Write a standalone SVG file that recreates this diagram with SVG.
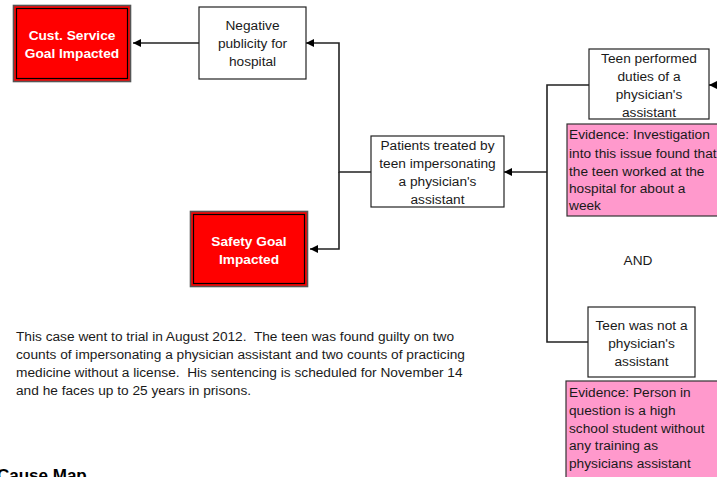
<svg xmlns="http://www.w3.org/2000/svg" width="717" height="477" viewBox="0 0 717 477">
<style>
text{font-family:"Liberation Sans",Arial,sans-serif;font-size:13.7px;fill:#1a1a1a}
.c{text-anchor:middle}
.g{fill:#fff;font-weight:bold}
.box{fill:#fff;stroke:#222;stroke-width:1.2}
.ev{fill:#ff99cc;stroke:#333;stroke-width:1.2}
.red{fill:#ff0000;stroke:#555;stroke-width:1.6}
.redin{fill:none;stroke:#000;stroke-width:1.2}
.con path{fill:none;stroke:#222;stroke-width:1.6}
.note{white-space:pre}
</style>
<defs>
<marker id="ah" markerUnits="userSpaceOnUse" markerWidth="9" markerHeight="9" refX="8" refY="4" orient="auto">
<path d="M0,0 L8,4 L0,8 z" fill="#000"/>
</marker>
</defs>
<rect width="717" height="477" fill="#fff"/>
<g class="con">
<path d="M199,43 H133" marker-end="url(#ah)"/>
<path d="M371,172 H339 V43 H306" marker-end="url(#ah)"/>
<path d="M339,172 V249 H310" marker-end="url(#ah)"/>
<path d="M589,85 H547 V342 H588"/>
<path d="M547,172 H504" marker-end="url(#ah)"/>
<path d="M722,85 H709" marker-end="url(#ah)"/>
</g>
<g id="cust">
<rect class="red" x="13.5" y="5.5" width="117" height="76"/>
<rect class="redin" x="16.5" y="8.5" width="111" height="70"/>
<text class="c g" x="72" y="40">Cust. Service</text>
<text class="c g" x="72" y="58">Goal Impacted</text>
</g>
<g id="negative">
<rect class="box" x="199" y="7" width="107" height="72"/>
<text class="c" x="252.5" y="30">Negative</text>
<text class="c" x="252.5" y="48">publicity for</text>
<text class="c" x="252.5" y="66">hospital</text>
</g>
<g id="safety">
<rect class="red" x="190.5" y="211.5" width="117" height="75"/>
<rect class="redin" x="193.5" y="214.5" width="111" height="69"/>
<text class="c g" x="249" y="246">Safety Goal</text>
<text class="c g" x="249" y="264">Impacted</text>
</g>
<g id="patients">
<rect class="box" x="371" y="136" width="133" height="71"/>
<text class="c" x="437.5" y="150">Patients treated by</text>
<text class="c" x="437.5" y="168">teen impersonating</text>
<text class="c" x="437.5" y="186">a physician's</text>
<text class="c" x="437.5" y="204">assistant</text>
</g>
<g id="performed">
<rect class="box" x="589" y="49" width="120" height="70"/>
<text class="c" x="649" y="63">Teen performed</text>
<text class="c" x="649" y="81">duties of a</text>
<text class="c" x="649" y="99">physician's</text>
<text class="c" x="649" y="117">assistant</text>
</g>
<g id="evidence1">
<rect class="ev" x="567" y="124" width="160" height="92"/>
<text x="569" y="139">Evidence: Investigation</text>
<text x="569" y="158">into this issue found that</text>
<text x="569" y="176">the teen worked at the</text>
<text x="569" y="193">hospital for about a</text>
<text x="569" y="210">week</text>
</g>
<g id="and">
<text class="c" x="638" y="265">AND</text>
</g>
<g id="notpa">
<rect class="box" x="588" y="307" width="107" height="70"/>
<text class="c" x="641.5" y="330">Teen was not a</text>
<text class="c" x="641.5" y="348">physician's</text>
<text class="c" x="641.5" y="366">assistant</text>
</g>
<g id="evidence2">
<rect class="ev" x="566" y="381" width="160" height="110"/>
<text x="569" y="397">Evidence: Person in</text>
<text x="569" y="415">question is a high</text>
<text x="569" y="433">school student without</text>
<text x="569" y="450">any training as</text>
<text x="569" y="468">physicians assistant</text>
</g>
<g id="note">
<text class="note" x="16" y="341">This case went to trial in August 2012.  The teen was found guilty on two</text>
<text class="note" x="16" y="359">counts of impersonating a physician assistant and two counts of practicing</text>
<text class="note" x="16" y="377">medicine without a license.  His sentencing is scheduled for November 14</text>
<text class="note" x="16" y="395">and he faces up to 25 years in prisons.</text>
</g>
<g id="title">
<text x="-3" y="481" style="font-size:17px;font-weight:bold;fill:#000">Cause Map</text>
</g>
</svg>
